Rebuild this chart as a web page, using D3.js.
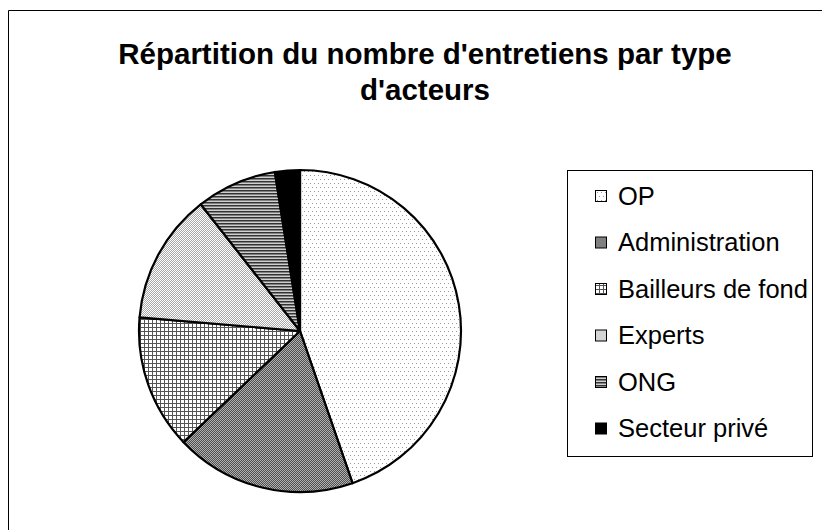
<!DOCTYPE html>
<html lang="fr">
<head>
<meta charset="UTF-8">
<title>Répartition du nombre d'entretiens</title>
<script src="https://d3js.org/d3.v7.min.js"></script>
<style>
    body { margin: 0; background: #fff; }
    svg { display: block; font-family: "Liberation Sans", Arial, sans-serif; }
</style>
</head>
<body>
<svg id="chart" width="822" height="530"></svg>
<script>
    const categories = ["OP", "Administration", "Bailleurs de fond", "Experts", "ONG", "Secteur privé"];
    const values = [44.8, 18.2, 13.5, 13.1, 8.1, 2.5];
    const titleLines = ["Répartition du nombre d'entretiens par type", "d'acteurs"];

    const svg = d3.select("#chart");
    const defs = svg.append("defs");

    // motifs de remplissage façon Excel noir et blanc
    function pattern(id, w, h, draw) {
        const p = defs.append("pattern")
            .attr("id", id)
            .attr("patternUnits", "userSpaceOnUse")
            .attr("width", w)
            .attr("height", h);
        p.append("rect").attr("width", w).attr("height", h).attr("fill", "#fff");
        draw(p);
    }
    const px = (p, x, y, c) => p.append("rect").attr("x", x).attr("y", y).attr("width", 1).attr("height", 1).attr("fill", c);

    pattern("p0", 4, 8, p => { px(p, 0, 0, "#999"); px(p, 2, 4, "#999"); });
    pattern("p1", 2, 2, p => {
        p.select("rect").attr("fill", "#b0b0b0");
        px(p, 0, 0, "#505050"); px(p, 1, 1, "#505050");
    });
    pattern("p2", 4, 4, p => {
        p.append("rect").attr("x", 0).attr("y", 0).attr("width", 1).attr("height", 4).attr("fill", "#555");
        p.append("rect").attr("x", 0).attr("y", 0).attr("width", 4).attr("height", 1).attr("fill", "#555");
    });
    pattern("p3", 2, 2, p => { px(p, 0, 0, "#a8a8a8"); px(p, 1, 1, "#a8a8a8"); });
    pattern("p4", 3, 3, p => {
        p.append("rect").attr("x", 0).attr("y", 0).attr("width", 3).attr("height", 1).attr("fill", "#333");
        p.append("rect").attr("x", 0).attr("y", 1).attr("width", 3).attr("height", 1).attr("fill", "#808080");
        p.append("rect").attr("x", 0).attr("y", 2).attr("width", 3).attr("height", 1).attr("fill", "#cfcfcf");
    });

    const fills = ["url(#p0)", "url(#p1)", "url(#p2)", "url(#p3)", "url(#p4)", "#000"];
    const color = d3.scaleOrdinal().domain(categories).range(fills);

    // cadre du graphique (coupé à droite et en bas)
    svg.append("path")
        .attr("d", "M8.5,540 V10.5 H830")
        .attr("fill", "none")
        .attr("stroke", "#000")
        .attr("stroke-width", 1);

    // titre
    svg.append("text")
        .attr("x", 425)
        .attr("y", 64)
        .attr("text-anchor", "middle")
        .style("font-size", "29.5px")
        .style("font-weight", "bold")
        .selectAll("tspan")
        .data(titleLines)
        .join("tspan")
        .attr("x", 425)
        .attr("dy", (d, i) => i === 0 ? 0 : 36)
        .text(d => d);

    // camembert
    const cx = 300, cy = 331, radius = 161;
    const table = categories.map((c, i) => ({ label: c, value: values[i] }));
    const pie = d3.pie().value(d => d.value).sort(null);
    const arc = d3.arc().innerRadius(0).outerRadius(radius);

    const g = svg.append("g").attr("transform", `translate(${cx},${cy})`);
    g.selectAll("path")
        .data(pie(table))
        .join("path")
        .attr("d", arc)
        .attr("fill", d => color(d.data.label))
        .attr("stroke", "#000")
        .attr("stroke-width", 2.2)
        .attr("stroke-linejoin", "round");

    // légende
    const lx = 567, ly = 170, lw = 245, lh = 286, step = 46.5;
    const legend = svg.append("g").attr("transform", `translate(${lx},${ly})`);
    legend.append("rect")
        .attr("x", 0.5).attr("y", 0.5)
        .attr("width", lw).attr("height", lh)
        .attr("fill", "#fff")
        .attr("stroke", "#000")
        .attr("stroke-width", 1);

    const items = legend.selectAll(".item")
        .data(categories)
        .join("g")
        .attr("class", "item")
        .attr("transform", (d, i) => `translate(0,${26 + i * step})`);

    items.append("rect")
        .attr("x", 28.5).attr("y", -5.5)
        .attr("width", 11).attr("height", 11)
        .attr("fill", d => color(d))
        .attr("stroke", "#000")
        .attr("stroke-width", 1);

    items.append("text")
        .attr("x", 51)
        .attr("y", 0)
        .attr("dy", "0.35em")
        .style("font-size", "25.5px")
        .text(d => d);
</script>
</body>
</html>
